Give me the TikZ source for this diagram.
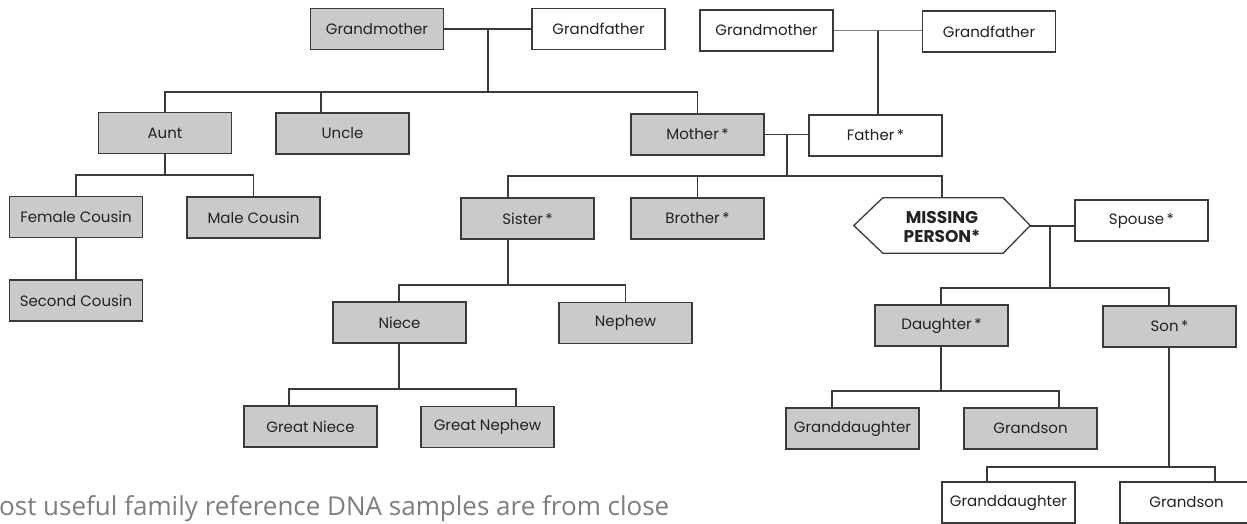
\documentclass[tikz,border=0pt]{standalone}
\usepackage{fontspec}
\setmainfont{Poppins}
\newfontfamily\capfont{Open Sans}
\usetikzlibrary{calc}
\definecolor{boxgray}{HTML}{C9CBCB}
\definecolor{linegray}{HTML}{3A3A3A}
\definecolor{textdark}{HTML}{222222}
\definecolor{capgray}{HTML}{7E7E7E}
\begin{document}
\begin{tikzpicture}[x=1pt,y=-1pt,
  person/.style={draw=linegray, line width=1.3pt, minimum width=133pt, minimum height=41pt,
    inner sep=0pt, font=\fontsize{15}{17}\selectfont, text=textdark},
  grayp/.style={person, fill=boxgray},
  whitep/.style={person, fill=white},
  link/.style={draw=linegray, line width=1.2pt},
  thinlink/.style={draw=gray, line width=0.9pt}]
\useasboundingbox (0,0) rectangle (1247,523);
\clip (0,0) rectangle (1247,523);

% grandparents
\node[grayp]  (gm1) at (377,29) {Grandmother};
\node[whitep] (gf1) at (598.5,29) {Grandfather};
\node[whitep] (gm2) at (766.5,30.5) {Grandmother};
\node[whitep] (gf2) at (989,31.5) {Grandfather};

% parents generation
\node[grayp]  (aunt)   at (165,133) {Aunt};
\node[grayp]  (uncle)  at (342.5,133.5) {Uncle};
\node[grayp]  (mother) at (697.5,134.5) {Mother\,*};
\node[whitep] (father) at (875.5,135.5) {Father\,*};

% cousins
\node[grayp] (fcous) at (76,217) {Female Cousin};
\node[grayp] (mcous) at (253.5,217.5) {Male Cousin};
\node[grayp] (scous) at (76,300.5) {Second Cousin};

% siblings
\node[grayp] (sister)  at (527.5,218.5) {Sister\,*};
\node[grayp] (brother) at (697.5,218.5) {Brother\,*};

% missing person
\node[minimum width=176pt, minimum height=55pt, inner sep=0pt] (mp) at (942,225.5) {};
\draw[draw=linegray, line width=1.3pt, fill=white]
  (mp.west) -- ([xshift=29pt]mp.north west) -- ([xshift=-27pt]mp.north east) -- (mp.east)
  -- ([xshift=-27pt]mp.south east) -- ([xshift=29pt]mp.south west) -- cycle;
\node[align=center, inner sep=0pt, text=textdark,
  font=\fontsize{17}{19}\selectfont\bfseries] (mptext) at (942,227) {MISSING\\PERSON*};
\node[whitep] (spouse) at (1141.5,220.5) {Spouse\,*};

% nieces / nephews
\node[grayp] (niece)  at (399.5,322.5) {Niece};
\node[grayp] (nephew) at (625.5,323) {Nephew};
\node[grayp] (gniece)  at (310.5,426.5) {Great Niece};
\node[grayp] (gnephew) at (487.5,427) {Great Nephew};

% children
\node[grayp] (daughter) at (941.5,325.5) {Daughter\,*};
\node[grayp] (son)      at (1169.5,326.5) {Son\,*};
\node[grayp]  (gd1) at (852.5,428.5) {Granddaughter};
\node[grayp]  (gs1) at (1030.5,428.5) {Grandson};
\node[whitep] (gd2) at (1008.5,502.5) {Granddaughter};
\node[whitep] (gs2) at (1186.5,502.5) {Grandson};

% junction coordinates
\coordinate (jgp1) at (488,92);
\coordinate (jgp2) at (878,31);
\coordinate (jpar) at (787,176);
\coordinate (jaunt) at (165,175);
\coordinate (jsis) at (508,285);
\coordinate (jnie) at (399,389);
\coordinate (jmp) at (1050,288);
\coordinate (jdau) at (941,391);
\coordinate (json) at (1169,467);
\coordinate (jmpline) at (1030,226);
\coordinate (uncleTop) at (321,113);
\coordinate (sisTop) at (508,198);
\coordinate (gnTop) at (289,406);
\coordinate (gnpTop) at (516,406);
\coordinate (gd1Top) at (832,408);
\coordinate (gs1Top) at (1059,408);
\coordinate (gd2Top) at (987,482);
\coordinate (gs2Top) at (1215,482);

% grandparents (maternal)
\draw[link] (gm1) -- (gf1);
\draw[link] (jgp1 |- gm1.east) -- (jgp1);
\draw[link] (aunt.north) |- (jgp1) -| (mother.north);
\draw[link] (uncleTop) -- (uncleTop |- jgp1);

% grandparents (paternal)
\draw[thinlink] (gm2.east) -- (gm2.east -| gf2.west);
\draw[link] (jgp2) -- (jgp2 |- father.north);

% parents
\draw[link] (mother.east) -- (mother.east -| father.west);
\draw[link] (jpar |- mother.east) -- (jpar);
\draw[link] (sisTop) |- (jpar) -| (mp.north);
\draw[link] (brother.north) -- (brother.north |- jpar);

% aunt's line
\draw[link] (aunt.south) -- (jaunt);
\draw[link] (fcous.north) |- (jaunt) -| (mcous.north);
\draw[link] (fcous) -- (scous);

% sister's line
\draw[link] (sisTop |- sister.south) -- (jsis);
\draw[link] (jnie |- niece.north) |- (jsis) -| (nephew.north);
\draw[link] (jnie |- niece.south) -- (jnie);
\draw[link] (gnTop) |- (jnie) -| (gnpTop);

% missing person's line
\draw[link] (jmpline) -- (jmpline -| spouse.west);
\draw[link] (jmp |- jmpline) -- (jmp);
\draw[link] (jdau |- daughter.north) |- (jmp) -| (json |- son.north);
\draw[link] (jdau |- daughter.south) -- (jdau);
\draw[link] (gd1Top) |- (jdau) -| (gs1Top);
\draw[link] (json |- son.south) -- (json);
\draw[link] (gd2Top) |- (json) -| (gs2Top);

% caption
\node[anchor=base west, inner sep=0pt, text=capgray, font=\capfont\fontsize{26}{28}\selectfont]
  (caption) at (-1,515) {ost useful family reference DNA samples are from close};
\end{tikzpicture}
\end{document}
